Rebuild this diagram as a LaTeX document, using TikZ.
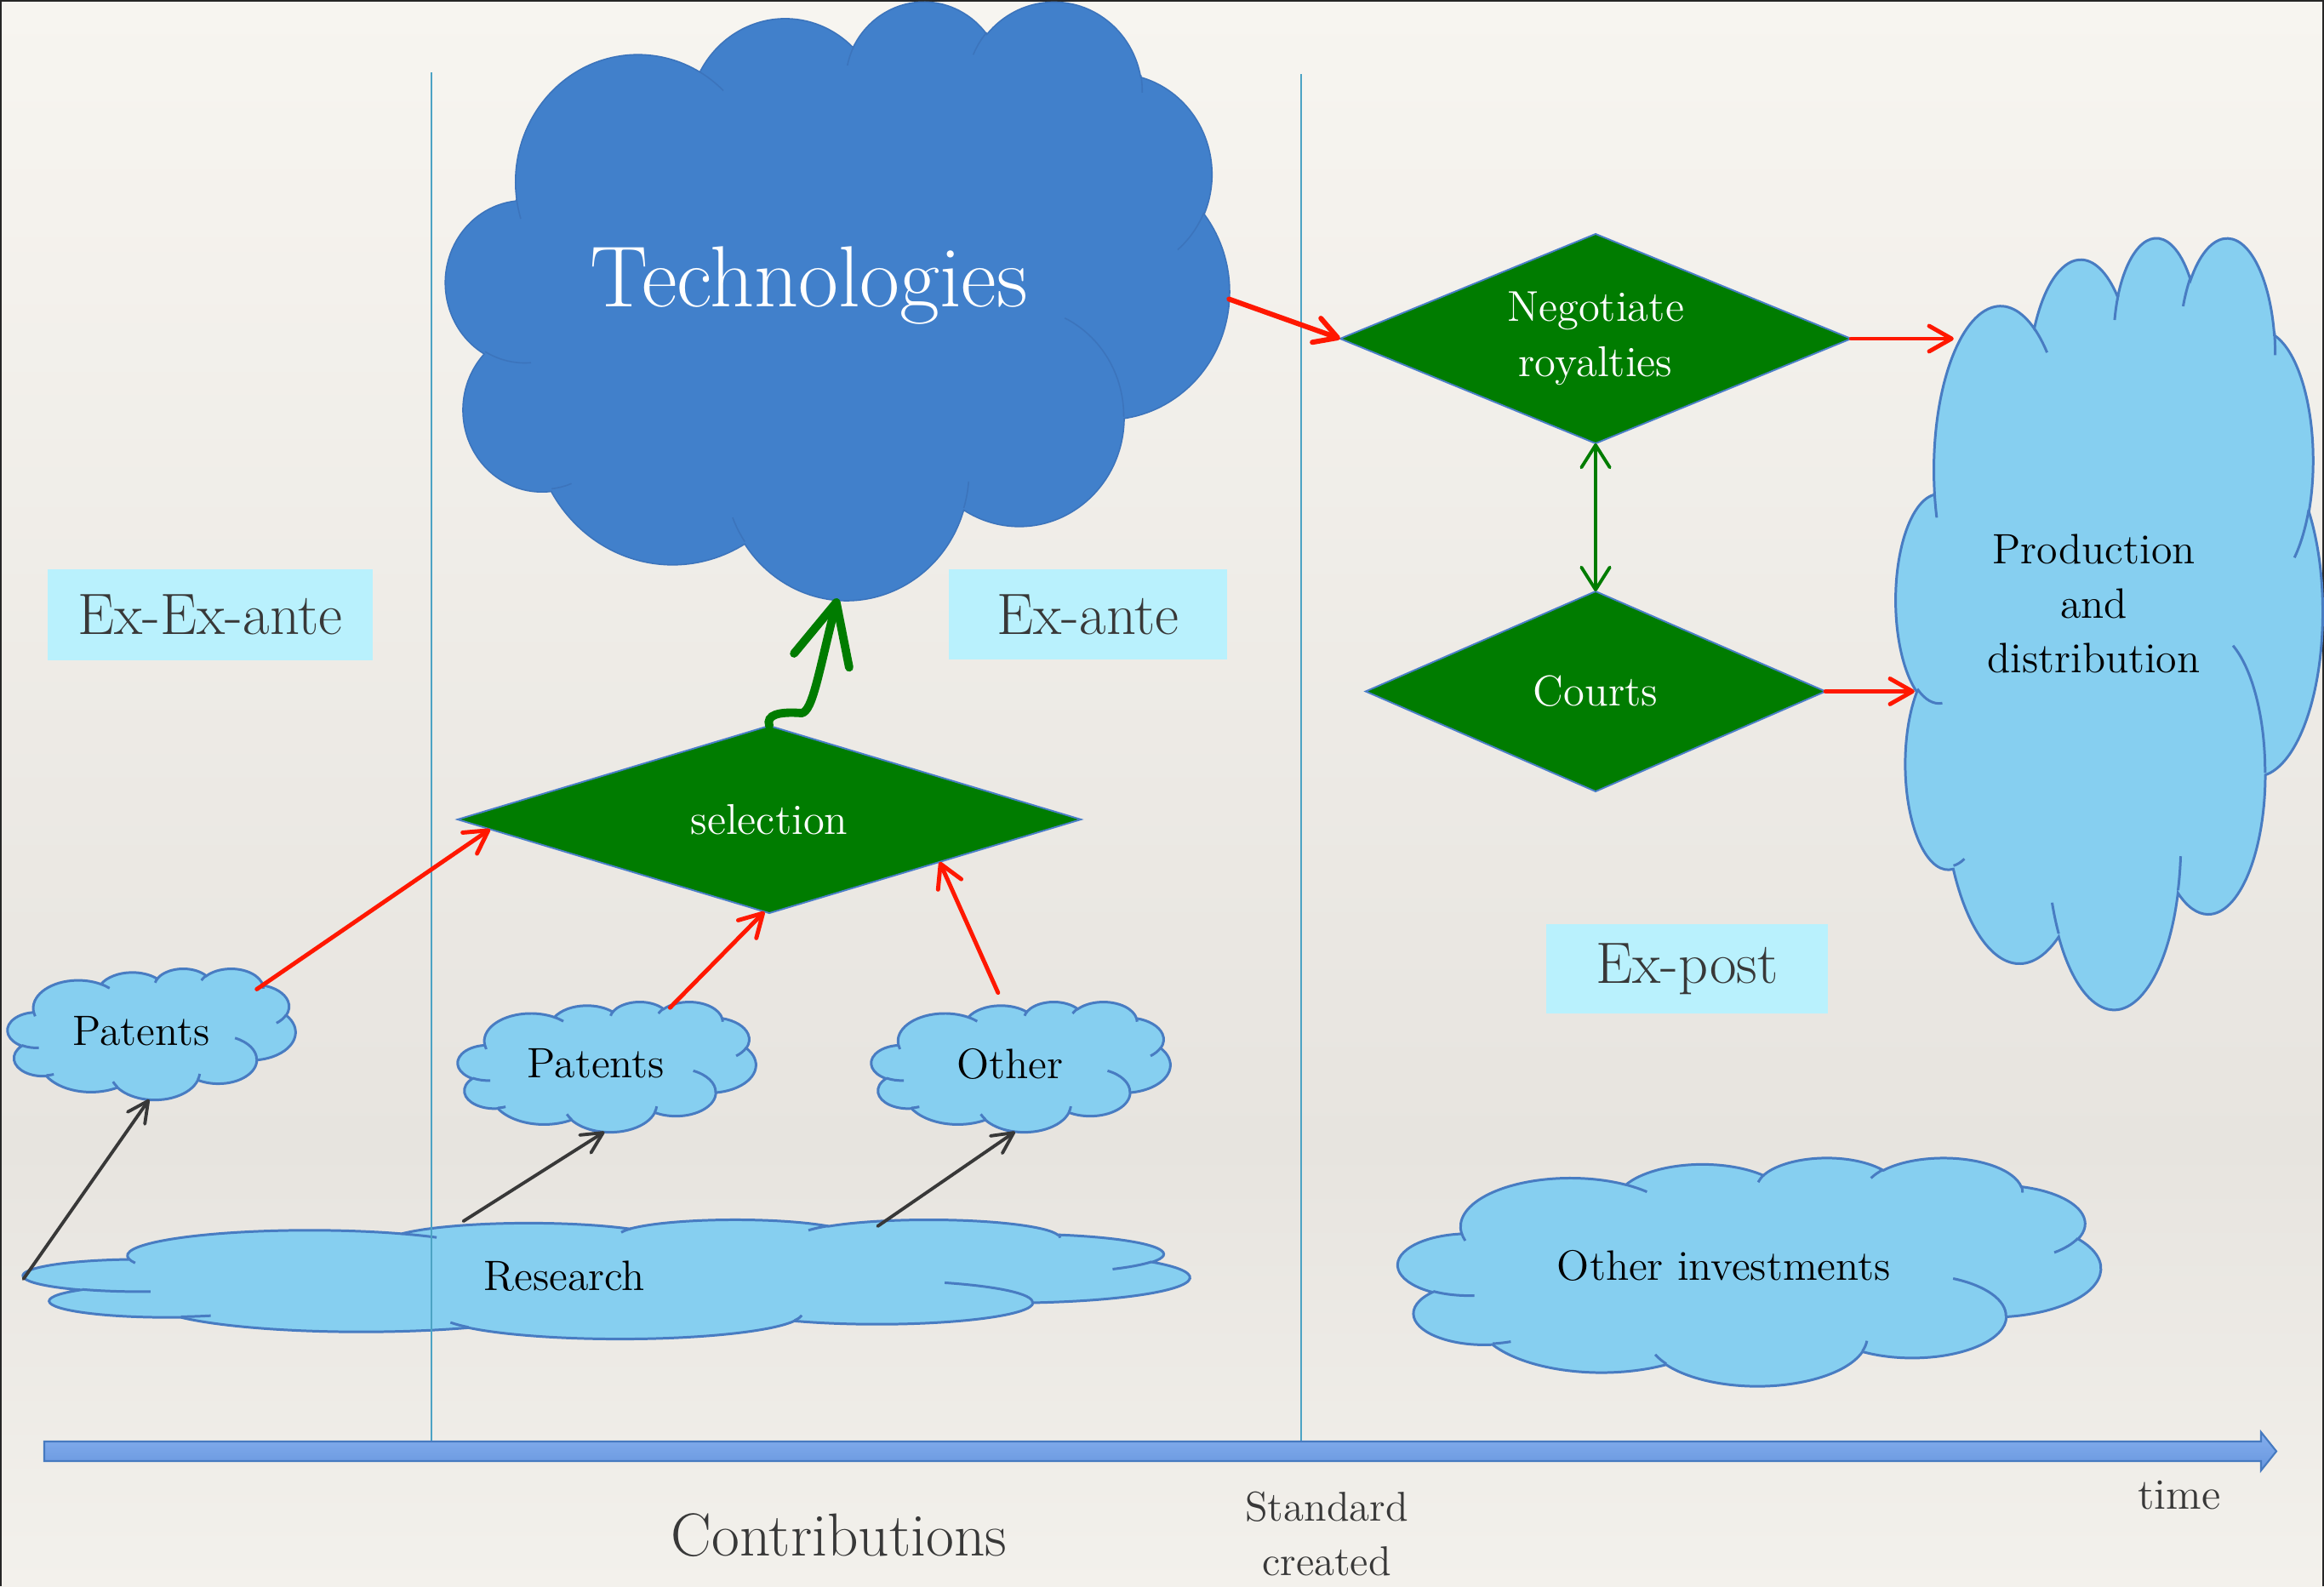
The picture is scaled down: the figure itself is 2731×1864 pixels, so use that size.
\documentclass[tikz,border=0pt]{standalone}
\usepackage{fontspec}
\usetikzlibrary{arrows.meta,shapes.geometric,calc}

\definecolor{paperTop}{RGB}{247,245,240}
\definecolor{paperMid}{RGB}{231,228,223}
\definecolor{paperBot}{RGB}{243,241,236}
\definecolor{techBlue}{RGB}{65,128,203}
\definecolor{techEdge}{RGB}{60,116,188}
\definecolor{skyFill}{RGB}{134,207,240}
\definecolor{skyEdge}{RGB}{72,124,194}
\definecolor{tagFill}{RGB}{185,241,253}
\definecolor{inkGrey}{RGB}{56,56,56}
\definecolor{dividerTeal}{RGB}{76,163,196}
\definecolor{decisionGreen}{RGB}{0,124,0}
\definecolor{diamondEdge}{RGB}{74,126,200}
\definecolor{flowRed}{RGB}{255,24,0}
\definecolor{axisTop}{RGB}{133,175,238}
\definecolor{axisBot}{RGB}{103,150,222}
\definecolor{axisEdge}{RGB}{70,122,192}

\newcommand\setfs[2]{\fontsize{#1}{#2}\selectfont}

% ---- cloud outline: 11 elliptical lobes in a 432 x 432 box ----
% arguments: x radius, y radius, start angle, sweep (geometric angles, degrees)
\newcommand\cloudacc{}
\newcommand\cloudarc[4]{%
  \pgfmathsetmacro\cloudA{atan2((#1)*sin(#3),(#2)*cos(#3))}%
  \pgfmathsetmacro\cloudB{atan2((#1)*sin((#3)+(#4)),(#2)*cos((#3)+(#4)))}%
  \ifdim\cloudB pt<\cloudA pt\pgfmathsetmacro\cloudB{\cloudB+360}\fi
  \xdef\cloudacc{\cloudacc arc[start angle=\cloudA,end angle=\cloudB,x radius=#1,y radius=#2]}%
}
\newcommand\cloudmove[2]{\xdef\cloudacc{\cloudacc(#1,#2)}}

\gdef\cloudacc{}
\cloudarc{67.53}{91.90}{-190.4875}{123.7805}
\cloudarc{53.33}{72.67}{-144.1024}{89.9452}
\cloudarc{43.65}{59.45}{-145.8079}{99.7230}
\cloudarc{48.57}{65.95}{-130.9861}{117.2417}
\cloudarc{53.33}{72.73}{-78.7089}{109.0269}
\cloudarc{67.75}{92.20}{-46.2673}{130.2690}
\cloudarc{57.85}{78.67}{0.6250}{114.0333}
\cloudarc{67.52}{92.15}{22.4516}{115.1726}
\cloudarc{77.20}{105.43}{66.2426}{75.7110}
\cloudarc{43.60}{59.18}{-274.9421}{146.7356}
\cloudarc{43.45}{59.45}{-246.8285}{152.5189}
\global\let\cloudouter\cloudacc

% inner lobe strokes
\gdef\cloudacc{}
\cloudmove{46.93}{261.77}\cloudarc{43.45}{59.45}{86.7420}{26.4295}
\cloudmove{69.28}{348.99}\cloudarc{43.60}{59.18}{73.6105}{11.4475}
\cloudmove{164.78}{390.90}\cloudarc{67.52}{92.15}{137.6242}{14.0811}
\cloudmove{288.27}{347.51}\cloudarc{67.52}{92.15}{6.4533}{15.9984}
\cloudmove{341.29}{229.54}\cloudarc{57.85}{78.67}{-70.2924}{70.9174}
\cloudmove{417.98}{153.54}\cloudarc{53.33}{72.73}{30.3180}{27.7515}
\cloudmove{383.24}{54.26}\cloudarc{48.57}{65.95}{-13.7443}{14.8589}
\cloudmove{290.78}{39.52}\cloudarc{48.57}{65.95}{-149.1815}{18.1954}
\cloudmove{221.41}{47.20}\cloudarc{43.65}{59.45}{-163.4943}{17.6864}
\cloudmove{140.00}{51.92}\cloudarc{67.53}{91.90}{-66.7070}{12.3194}
\cloudmove{41.27}{157.89}\cloudarc{67.53}{91.90}{157.6544}{11.8582}
\global\let\cloudinner\cloudacc

\tikzset{
  sketchcloud/.style={fill=skyFill, draw=skyEdge, line width=0.85pt},
  techcloud/.style={fill=techBlue, draw=techEdge, line width=0.45pt},
  cloudanchor/.style={ellipse, inner sep=0pt, outer sep=0pt},
  cloudlabel/.style={inner sep=0pt, align=center, text=black, font=\setfs{14.2}{18.2}},
  decision/.style={diamond, fill=decisionGreen, draw=diamondEdge, line width=0.55pt,
    inner sep=0pt, outer sep=0pt, text=white, align=center, font=\setfs{14.4}{18.4}},
  phasetag/.style={fill=tagFill, inner sep=0pt, text=inkGrey, font=\setfs{19.5}{23}},
  axislabel/.style={inner sep=0pt, text=inkGrey, align=center},
  dividerline/.style={draw=dividerTeal, line width=0.55pt},
  redflow/.style={draw=flowRed, line width=1.4pt, line cap=round,
    -{Straight Barb[length=7.5pt,width=8.5pt,round]}},
  greyflow/.style={draw=inkGrey, line width=1.1pt, line cap=round,
    -{Straight Barb[length=7pt,width=7pt,round]}},
  greenlink/.style={draw=decisionGreen, line width=1.1pt,
    {Straight Barb[length=7.5pt,width=9.5pt,round]}-{Straight Barb[length=7.5pt,width=9.5pt,round]}},
  greenrise/.style={draw=decisionGreen, line width=2.8pt, line cap=round,
    -{Straight Barb[length=20pt,width=19pt,round]}},
}

% name, left, top, right, bottom, outline style, label, label style
\newcommand\cloudnode[8]{%
  \pgfmathsetmacro\cloudW{(#4-#2)/432*0.2845276}%
  \pgfmathsetmacro\cloudH{(#5-#3)/432*0.2845276}%
  \begin{scope}[shift={(#2,#3)}, x=\cloudW pt, y=-\cloudH pt]
    \path[#6] (39.00,143.70) \cloudouter -- cycle;
    \path[#6, fill=none] \cloudinner;
  \end{scope}
  \pgfmathsetmacro\cloudW{(#4-#2)*0.2845276}%
  \pgfmathsetmacro\cloudH{(#5-#3)*0.2845276}%
  \node[cloudanchor, minimum width=\cloudW pt, minimum height=\cloudH pt] (#1) at ({(#2+#4)/2},{(#3+#5)/2}) {};
  \node[cloudlabel, #8] (#1label) at ({#2+0.464*(#4-#2)},{#3+0.477*(#5-#3)}) {#7};
}

\begin{document}
\begin{tikzpicture}[x=0.01cm, y=-0.01cm]
  \useasboundingbox (0,0) rectangle (2731,1864);

  % paper
  \shade[top color=paperTop, bottom color=paperMid] (0,0) rectangle (2731,1350);
  \shade[top color=paperMid, bottom color=paperBot] (0,1349) rectangle (2731,1864);
  \draw[line width=0.6pt, black!85] (0.5,1864) -- (0.5,0.5) -- (2730.5,0.5) -- (2730.5,1864);

  % clouds
  \cloudnode{res}{28}{1433}{1397}{1573}{sketchcloud}{Research}{}
  \cloudnode{pL}{9}{1138}{347}{1292}{sketchcloud}{Patents}{}
  \cloudnode{pM}{538}{1177}{888}{1330}{sketchcloud}{Patents}{}
  \cloudnode{oth}{1024}{1177}{1375}{1330}{sketchcloud}{Other}{}
  \cloudnode{inv}{1643}{1360}{2468}{1628}{sketchcloud}{Other investments}{}
  \cloudnode{prod}{2228}{277}{2729}{1183}{sketchcloud}{Production\\and\\distribution}{}
  \cloudnode{tech}{524}{0}{1444}{703}{techcloud}{Technologies}{text=white, font=\setfs{29}{33}}

  % phase dividers
  \draw[dividerline] (507,85) -- (507,1694);
  \draw[dividerline] (1529,87) -- (1529,1694);

  % time axis
  \path[top color=axisTop, bottom color=axisBot, draw=axisEdge, line width=0.6pt]
    (52,1694) -- (2657,1694) -- (2657,1683) -- (2675,1705.5) -- (2657,1728)
    -- (2657,1717) -- (52,1717) -- cycle;

  % decisions
  \node[decision, aspect=3.3, minimum width=208.27pt, minimum height=62.60pt] (sel) at (904,963) {selection};
  \node[decision, aspect=2.44, minimum width=170.72pt, minimum height=69.99pt] (neg) at (1875,398) {Negotiate\\royalties};
  \node[decision, aspect=2.3, minimum width=153.64pt, minimum height=66.86pt] (cou) at (1875,812.5) {Courts};

  % phase tags
  \node[phasetag, minimum width=108.7pt, minimum height=30.4pt] (exexante) at (247,722.5) {Ex-Ex-ante};
  \node[phasetag, minimum width=93pt, minimum height=30.2pt] (exante) at (1278.5,722) {Ex-ante};
  \node[phasetag, minimum width=93.9pt, minimum height=29.9pt] (expost) at (1982.5,1138.5) {Ex-post};

  % connectors
  \draw[greyflow] (res.180) -- (pL.-92);
  \draw[greyflow] (res.158) -- (pM.-92);
  \draw[greyflow] (res.11) -- (oth.-95);
  \draw[redflow] (pL.23) -- (sel.182);
  \draw[redflow] (pM.43) -- (sel.-93);
  \draw[redflow, shorten <=3.4pt] (oth.106) -- (sel.-14);
  \draw[redflow, line width=1.7pt] (tech.east) -- (neg.west);
  \draw[redflow] (neg.east) -- ($(neg.east -| prod.west)+(68,0)$);
  \draw[redflow] (cou.east) -- ($(cou.east -| prod.west)+(22,0)$);
  \draw[greenlink] (neg.south) -- (cou.north);
  \draw[greenrise] (sel.north) .. controls (900,840) and (915,836) .. (942,838)
    .. controls (955,836) and (962,790) .. (tech.south);

  % axis labels
  \node[axislabel, font=\setfs{20.3}{24}] (contrib) at (986,1804) {Contributions};
  \node[axislabel, font=\setfs{13.9}{18}] (stdcreated) at (1559,1802.5) {Standard\\created};
  \node[axislabel, font=\setfs{14.5}{18}] (timelbl) at (2561,1757) {time};
\end{tikzpicture}
\end{document}
